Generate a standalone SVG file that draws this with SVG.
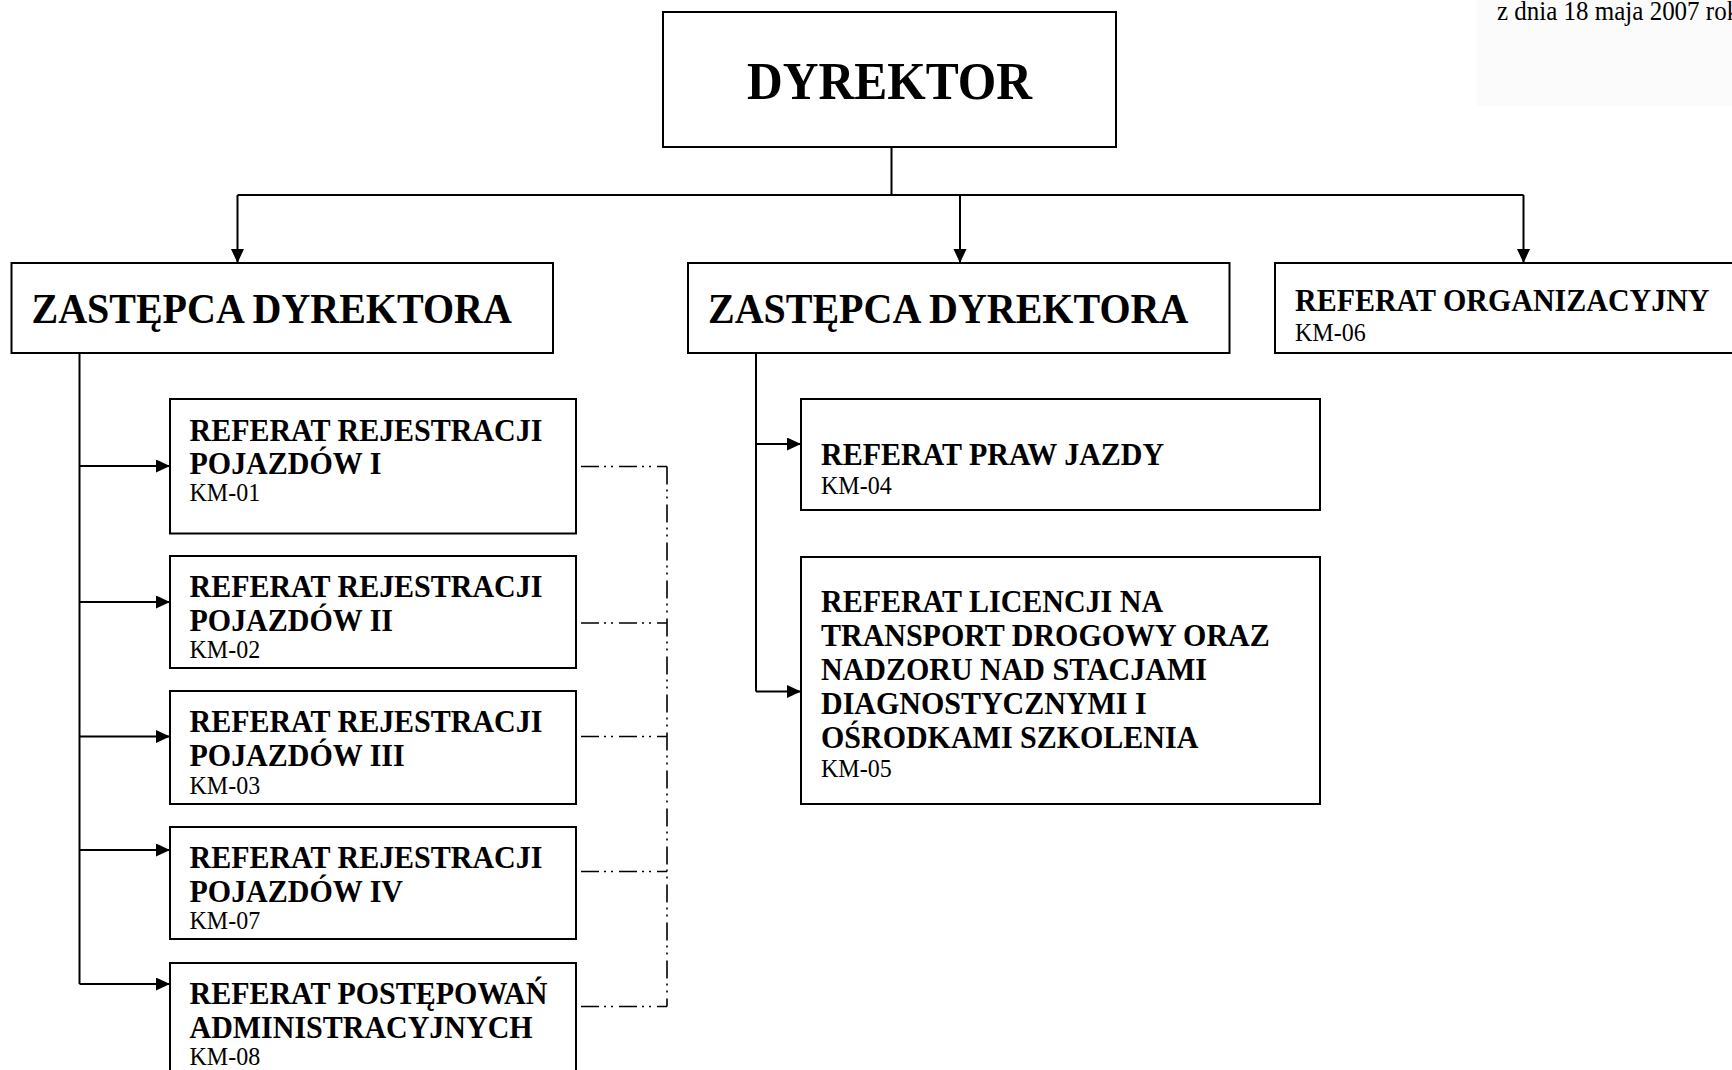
<svg xmlns="http://www.w3.org/2000/svg" width="1732" height="1070" viewBox="0 0 1732 1070">
<style>
.box{fill:#fff;stroke:#000;stroke-width:2}
.ln{fill:none;stroke:#000;stroke-width:2}
.dd{fill:none;stroke:#000;stroke-width:1.6;stroke-dasharray:18 5 2 5 2 6}
.b{font-family:"Liberation Serif","Times New Roman",serif;font-weight:bold;font-size:30px;fill:#000}
.r{font-family:"Liberation Serif","Times New Roman",serif;font-size:24px;fill:#000}
.big{font-family:"Liberation Serif","Times New Roman",serif;font-weight:bold;font-size:40px;fill:#000}
.top{font-family:"Liberation Serif","Times New Roman",serif;font-weight:bold;font-size:49.5px;fill:#000}
.date{font-family:"Liberation Serif","Times New Roman",serif;font-size:25px;fill:#000}
</style>
<defs>
<marker id="ah" markerUnits="userSpaceOnUse" markerWidth="16" markerHeight="14" refX="14" refY="6.5" orient="auto">
<path d="M0,0 L14,6.5 L0,13 Z" fill="#000"/>
</marker>
</defs>
<rect width="1732" height="1070" fill="#fff"/>
<rect x="1477" y="0" width="255" height="106" fill="#fbfbfb"/>
<text class="date" transform="translate(1497,20) scale(1,1.07)">z dnia 18 maja 2007 rok</text>

<g id="connectors">
<path class="ln" d="M891.5,147 V195 M237.5,195 H1523.5"/>
<path class="ln" d="M237.5,195 V263" marker-end="url(#ah)"/>
<path class="ln" d="M960,195 V263" marker-end="url(#ah)"/>
<path class="ln" d="M1523.5,195 V263" marker-end="url(#ah)"/>
<path class="ln" d="M79.5,353 V984"/>
<path class="ln" d="M79.5,466 H170" marker-end="url(#ah)"/>
<path class="ln" d="M79.5,602 H170" marker-end="url(#ah)"/>
<path class="ln" d="M79.5,736.5 H170" marker-end="url(#ah)"/>
<path class="ln" d="M79.5,850 H170" marker-end="url(#ah)"/>
<path class="ln" d="M79.5,984 H170" marker-end="url(#ah)"/>
<path class="ln" d="M756,353 V691.5"/>
<path class="ln" d="M756,444 H801" marker-end="url(#ah)"/>
<path class="ln" d="M756,691.5 H801" marker-end="url(#ah)"/>
<path class="dd" d="M581,466.5 H667"/>
<path class="dd" d="M581,623 H667"/>
<path class="dd" d="M581,736.5 H667"/>
<path class="dd" d="M581,871.5 H667"/>
<path class="dd" d="M581,1006.5 H667"/>
<path class="dd" d="M667,466.5 V1006.5"/>
</g>

<g id="dyrektor">
<rect class="box" x="663" y="12" width="453" height="135"/>
<text class="top" text-anchor="middle" transform="translate(889.5,99) scale(1,1.05)">DYREKTOR</text>
</g>

<g id="zastepca1">
<rect class="box" x="11.5" y="263" width="541.5" height="90"/>
<text class="big" transform="translate(31.5,322.5) scale(1,1.07)">ZASTĘPCA DYREKTORA</text>
</g>

<g id="zastepca2">
<rect class="box" x="688" y="263" width="541.5" height="90"/>
<text class="big" transform="translate(708,322.5) scale(1,1.07)">ZASTĘPCA DYREKTORA</text>
</g>

<g id="km06">
<rect class="box" x="1275" y="263" width="470" height="90"/>
<text class="b" transform="translate(1295,311) scale(1,1.07)">REFERAT ORGANIZACYJNY</text>
<text class="r" transform="translate(1295,341) scale(1,1.07)">KM-06</text>
</g>

<g id="km01">
<rect class="box" x="170" y="399" width="406" height="134.5"/>
<text class="b" transform="translate(189.5,441) scale(1,1.07)">REFERAT REJESTRACJI</text>
<text class="b" transform="translate(189.5,474) scale(1,1.07)">POJAZDÓW I</text>
<text class="r" transform="translate(189.5,501) scale(1,1.07)">KM-01</text>
</g>

<g id="km02">
<rect class="box" x="170" y="556" width="406" height="112"/>
<text class="b" transform="translate(189.5,597) scale(1,1.07)">REFERAT REJESTRACJI</text>
<text class="b" transform="translate(189.5,631) scale(1,1.07)">POJAZDÓW II</text>
<text class="r" transform="translate(189.5,658) scale(1,1.07)">KM-02</text>
</g>

<g id="km03">
<rect class="box" x="170" y="691" width="406" height="113"/>
<text class="b" transform="translate(189.5,732) scale(1,1.07)">REFERAT REJESTRACJI</text>
<text class="b" transform="translate(189.5,766) scale(1,1.07)">POJAZDÓW III</text>
<text class="r" transform="translate(189.5,794) scale(1,1.07)">KM-03</text>
</g>

<g id="km07">
<rect class="box" x="170" y="827" width="406" height="112"/>
<text class="b" transform="translate(189.5,868) scale(1,1.07)">REFERAT REJESTRACJI</text>
<text class="b" transform="translate(189.5,902) scale(1,1.07)">POJAZDÓW IV</text>
<text class="r" transform="translate(189.5,929) scale(1,1.07)">KM-07</text>
</g>

<g id="km08">
<rect class="box" x="170" y="963" width="406" height="120"/>
<text class="b" transform="translate(189.5,1004) scale(1,1.07)">REFERAT POSTĘPOWAŃ</text>
<text class="b" transform="translate(189.5,1038) scale(1,1.07)">ADMINISTRACYJNYCH</text>
<text class="r" transform="translate(189.5,1065) scale(1,1.07)">KM-08</text>
</g>

<g id="km04">
<rect class="box" x="801" y="399" width="519" height="111"/>
<text class="b" transform="translate(821,465) scale(1,1.07)">REFERAT PRAW JAZDY</text>
<text class="r" transform="translate(821,494) scale(1,1.07)">KM-04</text>
</g>

<g id="km05">
<rect class="box" x="801" y="557" width="519" height="247"/>
<text class="b" transform="translate(821,612) scale(1,1.07)">REFERAT LICENCJI NA</text>
<text class="b" transform="translate(821,646) scale(1,1.07)">TRANSPORT DROGOWY ORAZ</text>
<text class="b" transform="translate(821,680) scale(1,1.07)">NADZORU NAD STACJAMI</text>
<text class="b" transform="translate(821,714) scale(1,1.07)">DIAGNOSTYCZNYMI I</text>
<text class="b" transform="translate(821,748) scale(1,1.07)">OŚRODKAMI SZKOLENIA</text>
<text class="r" transform="translate(821,777) scale(1,1.07)">KM-05</text>
</g>
</svg>
